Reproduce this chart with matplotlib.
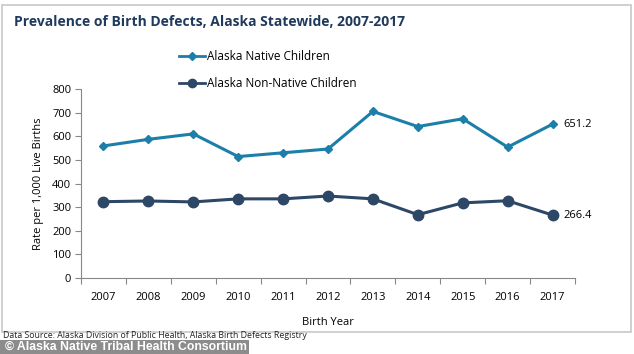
import numpy as np
import matplotlib.pyplot as plt
from matplotlib.patches import Rectangle
from matplotlib.lines import Line2D

years = ['2007', '2008', '2009', '2010', '2011', '2012', '2013', '2014', '2015', '2016', '2017']
native = [559, 587, 610, 514, 530, 546, 705, 641, 674, 554, 651.2]
non_native = [323, 326, 322, 335, 335, 347, 335, 268, 318, 327, 266.4]
y_ticks = [0, 100, 200, 300, 400, 500, 600, 700, 800]

c_native = '#1b7fa9'
c_non = '#2d4766'
c_title = '#1f3a5c'
font = 'Open Sans'

fig = plt.figure(figsize=(6.34, 3.54), dpi=100)
fig.patch.set_facecolor('white')

# outer frame of the chart
fig.patches.append(Rectangle((2/634, 1-332/354), 629/634, 327/354, transform=fig.transFigure,
                             fill=False, edgecolor='#c8c8c8', linewidth=1.2))

ax = fig.add_axes([81/634, 1-278/354, 494/634, 189/354])
x = np.arange(len(years))
ax.plot(x, native, color=c_native, lw=2.2, marker='D', ms=4.5, label='Alaska Native Children')
ax.plot(x, non_native, color=c_non, lw=2.2, marker='o', ms=7.5, label='Alaska Non-Native Children')

ax.text(x[-1]+0.25, native[-1], f'{native[-1]:.1f}', va='center', ha='left', fontsize=8, family=font)
ax.text(x[-1]+0.25, non_native[-1], f'{non_native[-1]:.1f}', va='center', ha='left', fontsize=8, family=font)

ax.set_xlim(-0.5, len(years)-0.5)
ax.set_ylim(0, 800)
ax.set_yticks(y_ticks)
ax.set_yticklabels([str(v) for v in y_ticks], fontsize=8, family=font)
ax.set_xticks(np.arange(-0.5, len(years), 1))
ax.set_xticklabels([])
ax.set_xticks(x, minor=True)
ax.set_xticklabels(years, minor=True, fontsize=8, family=font)
ax.tick_params(axis='x', which='minor', length=0, pad=10)
ax.tick_params(axis='x', which='major', length=4, color='#888888')
ax.tick_params(axis='y', length=4, color='#888888', pad=3)
for s in ['top', 'right']:
    ax.spines[s].set_visible(False)
for s in ['left', 'bottom']:
    ax.spines[s].set_color('#888888')

ax.set_ylabel('Rate per 1,000 Live Births', fontsize=8, family=font, labelpad=6)
ax.set_xlabel('Birth Year', fontsize=8, family=font, labelpad=10)

fig.text(14/634, 1-22/354, 'Prevalence of Birth Defects, Alaska Statewide, 2007-2017',
         fontsize=10, fontweight='bold', color=c_title, family=font, va='center')

handles = [Line2D([], [], color=c_native, lw=2, marker='D', ms=4),
           Line2D([], [], color=c_non, lw=2, marker='o', ms=6)]
fig.legend(handles, ['Alaska Native Children', 'Alaska Non-Native Children'],
           loc='upper left', bbox_to_anchor=(179/634, 1-50/354), frameon=False,
           prop={'family': font, 'size': 8.5}, handlelength=2.2, handletextpad=0.15,
           labelspacing=1.2, borderpad=0, borderaxespad=0)

fig.text(3/634, 1-336/354, 'Data Source: Alaska Division of Public Health, Alaska Birth Defects Registry',
         fontsize=6.3, family=font, va='center', color='#222222')
fig.patches.append(Rectangle((0, 0), 249/634, 14/354, transform=fig.transFigure,
                             facecolor='#8c8c8c', edgecolor='none'))
fig.text(5/634, 7/354, '\u00a9 Alaska Native Tribal Health Consortium', fontsize=8.8,
         fontweight='bold', color='white', family='Liberation Sans', va='center')

fig.savefig('out.png', dpi=100)
